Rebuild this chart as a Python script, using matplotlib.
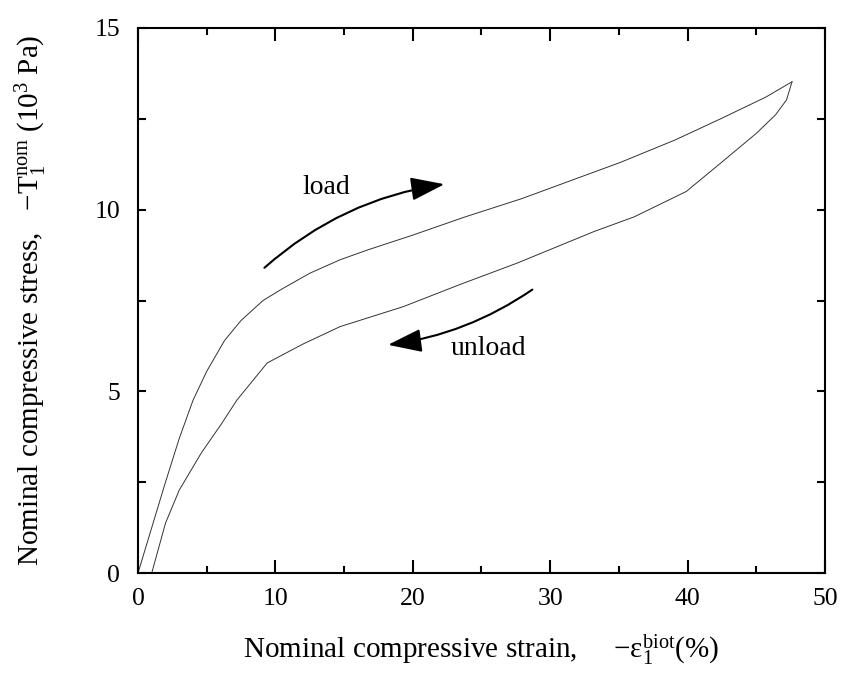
import matplotlib
matplotlib.use("Agg")
import matplotlib.pyplot as plt
from matplotlib.ticker import MultipleLocator

# Data
load_x = [0, 1, 2, 3, 4, 5, 6.3, 7.5, 9.1, 10.4, 12.5, 14.7, 16.7, 20, 23.8, 27.9, 31.5, 35.1, 39.1, 42.4, 45.7, 47.6]
load_y = [0, 1.25, 2.5, 3.7, 4.75, 5.55, 6.4, 6.95, 7.5, 7.8, 8.25, 8.62, 8.89, 9.3, 9.8, 10.3, 10.8, 11.3, 11.92, 12.5, 13.1, 13.52]
unload_x = [47.6, 47.2, 46.4, 45.0, 42.4, 39.9, 36.1, 33.2, 27.6, 23.5, 19.3, 14.7, 12.0, 9.4, 7.2, 6.1, 4.6, 3.0, 2.0, 1.0]
unload_y = [13.52, 13.02, 12.61, 12.10, 11.28, 10.5, 9.8, 9.40, 8.53, 7.95, 7.33, 6.78, 6.3, 5.78, 4.76, 4.12, 3.3, 2.28, 1.37, 0]

load_arrow_start = (9.2, 8.4)
load_arrow_end = (22.3, 10.7)
unload_arrow_start = (28.7, 7.8)
unload_arrow_end = (18.2, 6.28)
load_text_pos = (13.7, 10.6)
unload_text_pos = (25.5, 6.17)

x_ticks = [0, 10, 20, 30, 40, 50]
y_ticks = [0, 5, 10, 15]

plt.rcParams['font.family'] = ['Liberation Serif', 'DejaVu Serif']
plt.rcParams['mathtext.fontset'] = 'custom'
plt.rcParams['mathtext.rm'] = 'Liberation Serif'
plt.rcParams['mathtext.it'] = 'Liberation Serif:italic'

fig = plt.figure(figsize=(8.45, 6.82), dpi=100)
ax = fig.add_axes([138/845, 109/682, 687/845, 545/682])

ax.plot(load_x, load_y, color='#333333', lw=0.7)
ax.plot(unload_x, unload_y, color='#333333', lw=0.7)

ax.set_xlim(0, 50)
ax.set_ylim(0, 15)
ax.set_xticks(x_ticks)
ax.set_yticks(y_ticks)
ax.xaxis.set_minor_locator(MultipleLocator(5))
ax.yaxis.set_minor_locator(MultipleLocator(2.5))
ax.tick_params(which='both', direction='in', top=True, right=True, width=1.5, labelsize=18.5)
ax.tick_params(axis='x', which='major', length=9.5, pad=11)
ax.tick_params(axis='x', which='minor', length=5)
ax.tick_params(axis='y', which='both', length=5.5, pad=13)
for s in ax.spines.values():
    s.set_linewidth(1.5)

ax.annotate('', xy=load_arrow_end, xytext=load_arrow_start,
            arrowprops=dict(arrowstyle='-|>,head_length=1.3,head_width=0.45', color='black', lw=1.5,
                            connectionstyle='arc3,rad=-0.15', shrinkA=0, shrinkB=0, mutation_scale=16))
ax.annotate('', xy=unload_arrow_end, xytext=unload_arrow_start,
            arrowprops=dict(arrowstyle='-|>,head_length=1.3,head_width=0.45', color='black', lw=1.5,
                            connectionstyle='arc3,rad=-0.12', shrinkA=0, shrinkB=0, mutation_scale=16))
ax.text(*load_text_pos, 'load', fontsize=20, ha='center', va='center')
ax.text(*unload_text_pos, 'unload', fontsize=20, ha='center', va='center')

ax.set_xlabel(r'Nominal compressive strain,     $-\mathrm{ε}_1^{\mathrm{biot}}$(%)', fontsize=21)
ax.xaxis.set_label_coords(0.5, -0.108)
ax.set_ylabel(r'Nominal compressive stress,   $-\mathrm{T}_1^{\mathrm{nom}}$ (10$^3$ Pa)', fontsize=21)
ax.yaxis.set_label_coords(-0.13, 0.5)

fig.savefig('out.png', dpi=100)
